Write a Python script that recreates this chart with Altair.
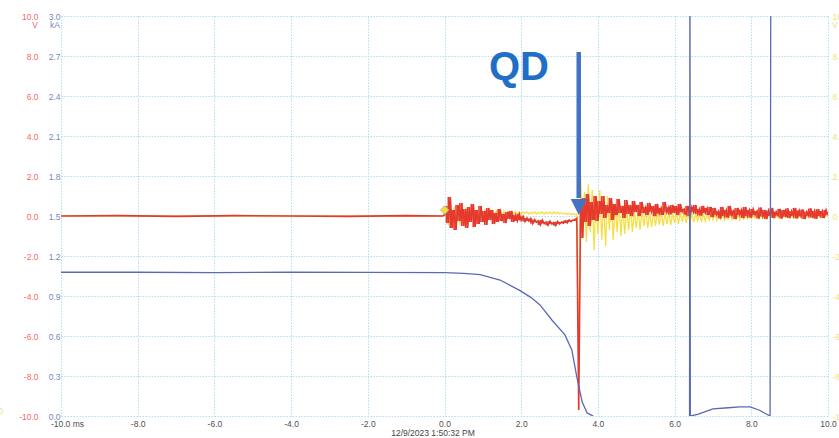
import altair as alt
import numpy as np
import pandas as pd

FONT = "Liberation Sans"
RED = "#e5392e"
YEL = "#f6df45"
BLUE = "#5a69b3"
ARROW = "#4472c4"
QD_COL = "#1f6fc6"
GRID = "#b3ddf1"
RED_LAB = "#f06a6a"
BLUE_LAB = "#7886c2"
YEL_LAB = "#f1e27c"

# ---------------- data ----------------
x_ticks = [-10, -8, -6, -4, -2, 0, 2, 4, 6, 8, 10]
v_ticks = [-10, -8, -6, -4, -2, 0, 2, 4, 6, 8, 10]
ka_ticks = [0.0, 0.3, 0.6, 0.9, 1.2, 1.5, 1.8, 2.1, 2.4, 2.7, 3.0]

# pre-trigger part (ms, V)
pre_t = [-10.0, -8.5, -7.0, -5.5, -4.0, -2.5, -1.0, -0.05]
red_pre = [0.0, 0.02, -0.02, 0.02, 0.0, -0.02, 0.02, 0.0]
yel_pre = [0.0, 0.0, 0.0, 0.0, 0.0, 0.0, 0.0, 0.0]

# sample times after trigger: 0.00 .. 10.00 ms every 0.05 ms
post_t = list(np.round(np.arange(0, 201) * 0.05, 2))

red_post = [
    0.05, 0.5, -0.35, 0.95, -0.6, 0.3, -0.7, 0.55, -0.25, 0.65, -0.5, 0.35, -0.6, 0.45, -0.3, 0.6, -0.55, 0.3, -0.4, 0.5,
    -0.3, 0.25, -0.45, 0.4, -0.2, 0.3, -0.4, 0.15, -0.3, 0.35, -0.25, 0.1, -0.35, 0.2, -0.15, 0.25, -0.3, 0.05, -0.25, 0.1,
    -0.22, -0.02, -0.28, -0.1, -0.25, -0.12, -0.38, -0.18, -0.32, -0.24, -0.45, -0.2, -0.38, -0.3, -0.46, -0.26, -0.4, -0.32, -0.48, -0.28,
    -0.4, -0.3, -0.36, -0.24, -0.35, -0.2, -0.28, -0.2, -0.22, -0.12, -9.7, 0.8, -1.1, 0.9, -0.3, 1.1, -0.5, 0.7, -0.2, 1.0,
    -0.25, 0.75, 0.1, 1.0, -0.1, 0.55, 0.15, 0.9, -0.2, 0.6, 0.05, 0.85, 0.15, 0.5, -0.1, 0.8, 0.1, 0.55, 0.0, 0.75,
    0.2, 0.55, 0.0, 0.7, 0.15, 0.45, 0.05, 0.65, 0.2, 0.5, 0.0, 0.6, 0.12, 0.4, 0.05, 0.7, 0.18, 0.45, 0.08, 0.55,
    0.15, 0.5, 0.05, 0.6, 0.2, 0.35, 0.08, 0.5, 0.0, 0.45, 0.18, 0.55, 0.1, 0.35, 0.02, 0.5, 0.15, 0.4, 0.05, 0.45,
    -0.05, 0.4, 0.05, 0.25, -0.12, 0.45, 0.0, 0.3, -0.08, 0.5, 0.02, 0.28, -0.15, 0.4, 0.05, 0.32, -0.1, 0.45, 0.0, 0.3,
    -0.08, 0.35, 0.05, 0.25, -0.12, 0.42, -0.02, 0.3, -0.15, 0.28, 0.0, 0.4, -0.1, 0.22, 0.02, 0.35, -0.12, 0.3, -0.04, 0.38,
    -0.1, 0.25, 0.0, 0.4, -0.12, 0.28, -0.02, 0.32, -0.15, 0.22, 0.0, 0.38, -0.08, 0.26, -0.14, 0.34, 0.0, 0.25, -0.1, 0.3, 0.05,
]

yel_post = [
    0.0, 0.4, -0.45, 0.5, -0.4, 0.45, -0.4, 0.4, -0.45, 0.35, -0.4, 0.4, -0.35, 0.35, -0.3, 0.4, -0.3, 0.3, -0.3, 0.35,
    -0.25, 0.35, -0.2, 0.3, -0.15, 0.3, -0.1, 0.3, -0.05, 0.25, 0.0, 0.25, 0.05, 0.22, 0.08, 0.2, 0.1, 0.22, 0.1, 0.2,
    0.1, 0.2, 0.12, 0.2, 0.1, 0.18, 0.12, 0.2, 0.1, 0.18, 0.12, 0.2, 0.1, 0.18, 0.12, 0.2, 0.1, 0.2, 0.12, 0.18,
    0.1, 0.16, 0.1, 0.15, 0.08, 0.14, 0.08, 0.12, 0.06, 0.1, -7.0, 1.9, -0.4, 1.2, -1.3, 1.6, -0.8, 1.3, -1.7, 0.9,
    -0.9, 1.3, -1.2, 0.8, -1.5, 1.0, -0.7, 0.9, -1.2, 0.6, -0.8, 0.7, -1.0, 0.5, -0.9, 0.4, -0.7, 0.5, -0.8, 0.3,
    -0.6, 0.3, -0.7, 0.25, -0.5, 0.3, -0.6, 0.2, -0.55, 0.25, -0.5, 0.2, -0.45, 0.2, -0.5, 0.15, -0.4, 0.2, -0.45, 0.15,
    -0.35, 0.15, -0.4, 0.2, -0.3, 0.15, -0.35, 0.1, -0.3, 0.15, -0.3, 0.1, -0.25, 0.12, -0.3, 0.1, -0.25, 0.1, -0.2, 0.08,
    -0.2, 0.1, -0.22, 0.08, -0.18, 0.1, -0.2, 0.05, -0.15, 0.1, -0.18, 0.05, -0.15, 0.08, -0.2, 0.05, -0.15, 0.08, -0.12, 0.05,
    -0.15, 0.08, -0.12, 0.05, -0.15, 0.06, -0.1, 0.05, -0.12, 0.08, -0.1, 0.04, -0.12, 0.06, -0.1, 0.05, -0.12, 0.04, -0.1, 0.05,
    -0.1, 0.05, -0.12, 0.04, -0.1, 0.06, -0.08, 0.04, -0.1, 0.05, -0.08, 0.04, -0.1, 0.05, -0.08, 0.03, -0.1, 0.04, -0.08, 0.05, 0.0,
]

# current (kA)
blue_t = [-10.0, -8.0, -6.0, -4.0, -2.0, 0.0, 0.5, 0.93, 1.45, 1.97, 2.25, 2.49, 2.8, 3.14, 3.32,
          3.45, 3.59, 3.72, 3.87, 3.95, 6.37, 6.39, 6.40, 6.41, 6.6, 7.0, 7.4, 7.7, 7.97, 8.2,
          8.49, 8.51, 10.0]
blue_ka = [1.078, 1.078, 1.076, 1.078, 1.077, 1.075, 1.07, 1.06, 1.02, 0.94, 0.89, 0.833, 0.72, 0.608, 0.495,
           0.293, 0.105, 0.023, 0.0, -0.05, -0.05, 0.0, 3.6, 0.0, 0.012, 0.053, 0.062, 0.068, 0.068, 0.045,
           0.0, 3.6, 3.6]

marker_t = [0.0]
marker_v = [0.3]

arrow_t = [3.5]
arrow_top = [8.2]
arrow_end = [0.9]
arrow_head = [0.45]

df_red = pd.DataFrame({"t": pre_t + post_t, "v": red_pre + red_post})
df_yel = pd.DataFrame({"t": pre_t + post_t, "v": yel_pre + yel_post})
df_blue = pd.DataFrame({"t": blue_t, "ka": blue_ka})

# peak-detect style: a vertical stroke between each sample and the next one
df_red_env = pd.DataFrame({"t": post_t, "v": red_post})
df_red_env["v2"] = df_red_env["v"].shift(-1)
df_red_env = df_red_env.dropna()
df_red_env = df_red_env[(df_red_env["v"] > -5) & (df_red_env["v2"] > -5)]

# ---------------- encodings ----------------
x_axis = alt.Axis(
    values=x_ticks,
    labelExpr="datum.value == -10 ? '-10.0 ms' : (datum.value < 0 ? '-' : '') + format(abs(datum.value), '.1f')",
    grid=True, gridColor=GRID, gridDash=[1.5, 1.5], gridWidth=1,
    domain=False, ticks=False, title=None,
    labelFont=FONT, labelFontSize=8.5, labelColor="#505050", labelPadding=3,
    labelOffset={"condition": {"test": "datum.value == -10", "value": 6}, "value": 0},
    labelFlush=False, labelOverlap=False,
)
x_enc = alt.X("t:Q", scale=alt.Scale(domain=[-10, 10], nice=False, zero=False), axis=x_axis)

v_label_expr = "(datum.value < 0 ? '-' : '') + format(abs(datum.value), '.1f')"

red_axis = alt.Axis(
    orient="left", values=v_ticks, labelExpr=v_label_expr,
    grid=True, gridColor=GRID, gridDash=[1.5, 1.5], gridWidth=1,
    domain=False, ticks=False, title=None,
    labelFont=FONT, labelFontSize=8.5, labelColor=RED_LAB, labelPadding=23,
    labelAlign="right", labelBaseline="middle", labelFlush=False, labelOverlap=False,
)
yel_axis = alt.Axis(
    orient="right", values=v_ticks, labelExpr=v_label_expr,
    grid=False, domain=False, ticks=False, title=None,
    labelFont=FONT, labelFontSize=8.5, labelColor=YEL_LAB, labelPadding=4,
    labelAlign="left", labelBaseline="middle", labelFlush=False, labelOverlap=False,
)
blue_axis = alt.Axis(
    orient="left", values=ka_ticks, format=".1f",
    grid=False, domain=False, ticks=False, title=None,
    labelFont=FONT, labelFontSize=8.5, labelColor=BLUE_LAB, labelPadding=1,
    labelAlign="right", labelBaseline="middle", labelFlush=False, labelOverlap=False,
)

def vscale():
    return alt.Scale(domain=[-10, 10], nice=False, zero=False)

yellow = alt.Chart(df_yel).mark_line(color=YEL, strokeWidth=1.3, clip=True).encode(
    x=x_enc, y=alt.Y("v:Q", scale=vscale(), axis=yel_axis))

red = alt.Chart(df_red).mark_line(color=RED, strokeWidth=1.6, clip=True).encode(
    x=x_enc, y=alt.Y("v:Q", scale=vscale(), axis=red_axis))

red_env = alt.Chart(df_red_env).mark_rule(color=RED, strokeWidth=1.6, clip=True).encode(
    x=x_enc, y=alt.Y("v:Q", scale=vscale(), axis=None), y2="v2:Q")

blue = alt.Chart(df_blue).mark_line(color=BLUE, strokeWidth=1.3, clip=True).encode(
    x=x_enc, y=alt.Y("ka:Q", scale=alt.Scale(domain=[0, 3], nice=False, zero=False), axis=blue_axis))

marker = alt.Chart(pd.DataFrame({"t": marker_t, "v": marker_v})).mark_point(
    shape="diamond", filled=True, size=70, color="#f4e21c", stroke="#b7bbd4", strokeWidth=1, opacity=1
).encode(x=x_enc, y=alt.Y("v:Q", scale=vscale(), axis=None))

arrow_df = pd.DataFrame({"t": arrow_t, "top": arrow_top, "end": arrow_end, "head": arrow_head})
arrow_shaft = alt.Chart(arrow_df).mark_rule(color=ARROW, strokeWidth=4.5).encode(
    x=x_enc, y=alt.Y("top:Q", scale=vscale(), axis=None), y2="end:Q")
arrow_tip = alt.Chart(arrow_df).mark_point(
    shape="M-1,-1L1,-1L0,1Z", size=256, filled=True, color=ARROW, opacity=1
).encode(x=x_enc, y=alt.Y("head:Q", scale=vscale(), axis=None))

def label(txt, x, y, color, size=8.5, align="center", weight="normal", baseline="middle"):
    return alt.Chart(pd.DataFrame({"s": [txt]})).mark_text(
        font=FONT, fontSize=size, color=color, align=align, baseline=baseline, fontWeight=weight
    ).encode(text="s:N", x=alt.value(x), y=alt.value(y))

texts = [
    label("QD", 458, 64, QD_COL, size=40, weight="bold", baseline="alphabetic"),
    label("12/9/2023 1:50:32 PM", 372, 417, "#444444"),
    label("V", -26, 9, RED_LAB),
    label("kA", -1, 9, BLUE_LAB, align="right"),
    label("V", 771, 9, YEL_LAB, align="left"),
    label("-10.0", -58, 395, YEL_LAB, align="right"),
]

chart = alt.layer(yellow, red, red_env, blue, marker, arrow_shaft, arrow_tip, *texts).resolve_scale(
    y="independent"
).properties(
    width=767, height=400,
    autosize=alt.AutoSizeParams(type="none"),
    padding={"left": 61, "top": 16, "right": 11, "bottom": 22},
    background="white",
).configure_view(strokeWidth=0)

chart.save("out.html", embed_options={"renderer": "svg", "actions": False})
